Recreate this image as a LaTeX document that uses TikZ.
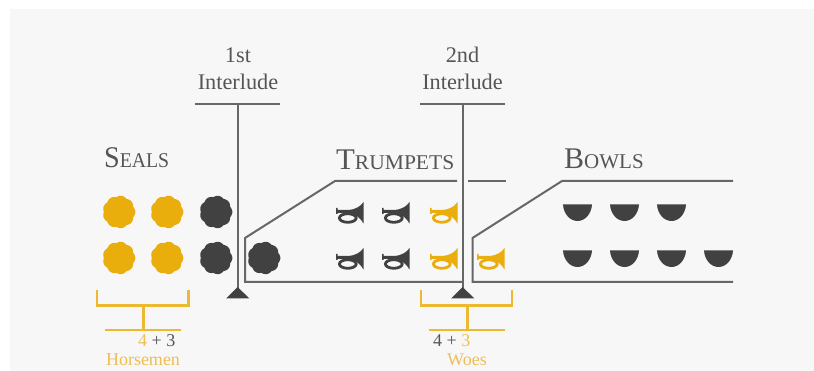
\documentclass[tikz,border=0pt]{standalone}
\usepackage{fontspec}
\setmainfont{Liberation Serif}
\definecolor{bgc}{HTML}{F7F7F7}
\definecolor{linec}{HTML}{676767}
\definecolor{darkc}{HTML}{414141}
\definecolor{goldc}{HTML}{E9AD0C}
\definecolor{goldt}{HTML}{EDBE55}
\definecolor{textc}{HTML}{555555}
\tikzset{
  rule/.style={draw=linec,line width=2pt},
  goldrule/.style={draw=goldc!85!white,line width=2.1pt},
  body/.style={text=textc,inner sep=0pt,font=\fontsize{22.3}{22.3}\selectfont,anchor=base},
  small/.style={inner sep=0pt,font=\fontsize{18}{18}\selectfont,anchor=base},
  heading/.style={text=textc,inner sep=0pt,anchor=base west},
  pics/sealmark/.style={code={
    \fill[#1] plot[domain=0:360,samples=241] (\x:{15.1+1.2*abs(cos(4.5*\x))});
  }},
  pics/hornmark/.style={code={
    \fill[#1] (27.5,0) .. controls (25,4) and (20,7.5) .. (12,8) -- (1.5,8) -- (1.5,6) -- (0,6) -- (0,12) -- (1.5,12) -- (1.5,11) -- (12,11) .. controls (20,11.5) and (25,17) .. (27.5,21.5) -- cycle;
    \draw[#1,line width=2.8pt] (11.8,16) ellipse[x radius=8.4,y radius=4.3];
  }},
  pics/bowlmark/.style={code={
    \fill[#1] (0,0) -- (29,0) .. controls (28.4,9.5) and (22,16.5) .. (14.5,16.5) .. controls (7,16.5) and (0.6,9.5) .. (0,0) -- cycle;
  }}
}
\newcommand{\headtext}[2]{{\fontsize{30}{30}\selectfont #1}{\fontsize{21}{21}\selectfont #2}}
\begin{document}
\begin{tikzpicture}[x=1pt,y=-1pt]
\useasboundingbox (0,0) rectangle (814,371);
\fill[bgc] (10,9) rectangle (814,371);

% seals
\foreach \p/\c in {119/goldc,167/goldc,216/darkc}{
  \pic at (\p,212) {sealmark=\c};
  \pic at (\p,258) {sealmark=\c};
}
\pic at (264,258) {sealmark=darkc};

% horns
\foreach \p/\c in {336/darkc,382/darkc,430/goldc}{
  \pic at (\p,202) {hornmark=\c};
  \pic at (\p,248) {hornmark=\c};
}
\pic at (477,248) {hornmark=goldc};

% bowls
\foreach \p in {563,610,657}{
  \pic at (\p,204.5) {bowlmark=darkc};
  \pic at (\p,250.5) {bowlmark=darkc};
}
\pic at (704,250.5) {bowlmark=darkc};

% frames
\coordinate (tA) at (457,181);
\coordinate (tB) at (335,181);
\coordinate (tC) at (245,238);
\coordinate (tD) at (245,282);
\coordinate (tE) at (463,282);
\coordinate (tF) at (468,181);
\coordinate (tG) at (506,181);
\draw[rule] (tA) -- (tB) -- (tC) -- (tD) -- (tE);
\draw[rule] (tF) -- (tG);
\coordinate (bA) at (733,181);
\coordinate (bB) at (562,181);
\coordinate (bC) at (472.5,238);
\coordinate (bD) at (472.5,282);
\coordinate (bE) at (733,282);
\draw[rule] (bA) -- (bB) -- (bC) -- (bD) -- (bE);

% interludes
\coordinate (iaL) at (195,104.5);
\coordinate (iaR) at (280,104.5);
\coordinate (iaT) at (237.5,104.5);
\coordinate (iaB) at (237.5,290);
\draw[rule] (iaL) -- (iaR);
\draw[rule] (iaT) -- (iaB);
\fill[darkc] (237.5,287) -- (249.5,298.5) -- (226,298.5) -- cycle;
\coordinate (ibL) at (420,104.5);
\coordinate (ibR) at (505,104.5);
\coordinate (ibT) at (462.5,104.5);
\coordinate (ibB) at (462.5,290);
\draw[rule] (ibL) -- (ibR);
\draw[rule] (ibT) -- (ibB);
\fill[darkc] (462.5,287) -- (474.5,298.5) -- (451,298.5) -- cycle;

% gold brackets
\coordinate (gaA) at (97,290);
\coordinate (gaB) at (97,305.5);
\coordinate (gaC) at (188.5,305.5);
\coordinate (gaD) at (188.5,290);
\coordinate (gaS) at (143.5,305.5);
\coordinate (gaT) at (143.5,330);
\draw[goldrule] (gaA) -- (gaB) -- (gaC) -- (gaD);
\draw[goldrule] (gaS) -- (gaT);
\draw[goldrule] (105,330) -- (181,330);
\coordinate (gbA) at (421,290);
\coordinate (gbB) at (421,305.5);
\coordinate (gbC) at (512,305.5);
\coordinate (gbD) at (512,290);
\coordinate (gbS) at (467.5,305.5);
\coordinate (gbT) at (467.5,330);
\draw[goldrule] (gbA) -- (gbB) -- (gbC) -- (gbD);
\draw[goldrule] (gbS) -- (gbT);
\draw[goldrule] (429,330) -- (505,330);

% text
\node[body] (ia1) at (238,63) {1st};
\node[body] (ia2) at (238,90) {Interlude};
\node[body] (ib1) at (462.5,63) {2nd};
\node[body] (ib2) at (462.5,90) {Interlude};
\node[heading,xscale=0.94] (seals) at (104,168) {\headtext{S}{EALS}};
\node[heading,xscale=1.025] (trump) at (336,170) {\headtext{T}{RUMPETS}};
\node[heading] (bowls) at (564,169) {\headtext{B}{OWLS}};
\node[small,anchor=base west] (ca) at (138,347) {\textcolor{goldt}{4}~\textcolor{textc}{+~3}};
\node[small,anchor=base west] (cb) at (433,347) {\textcolor{textc}{4~+}~\textcolor{goldt}{3}};
\node[small,text=goldt] (ha) at (143,366) {Horsemen};
\node[small,text=goldt] (wo) at (467,366) {Woes};
\end{tikzpicture}
\end{document}
